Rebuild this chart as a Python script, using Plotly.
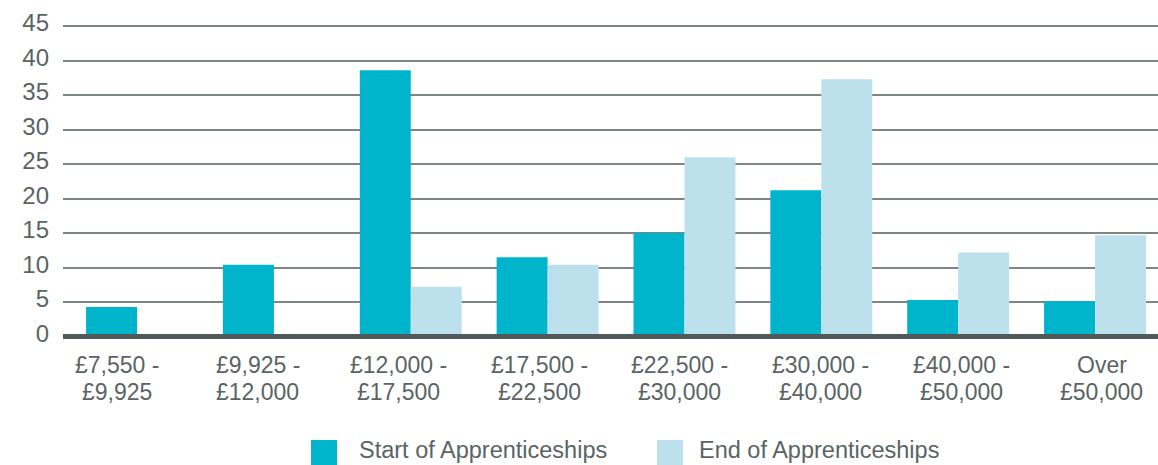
import plotly.graph_objects as go

categories = ["£7,550 -\n£9,925", "£9,925 -\n£12,000", "£12,000 -\n£17,500",
              "£17,500 -\n£22,500", "£22,500 -\n£30,000", "£30,000 -\n£40,000",
              "£40,000 -\n£50,000", "Over\n£50,000"]
start_values = [4.3, 10.4, 38.6, 11.5, 15.0, 21.2, 5.3, 5.1]
end_values = [None, None, 7.2, 10.4, 26.0, 37.3, 12.2, 14.7]
series_names = ["Start of Apprenticeships", "End of Apprenticeships"]
y_ticks = [0, 5, 10, 15, 20, 25, 30, 35, 40, 45]

START_COLOR = "#00b4cc"
END_COLOR = "#bce1ec"
TEXT_COLOR = "#5a6464"
FONT = "Liberation Sans, Arial, sans-serif"
FS = 23

W, H = 1158, 465
L, R, T, B = 63, 0, 24, 125
plot_w = W - L - R
plot_h = H - T - B

def px_x(px):
    return (px - L) / plot_w

def px_y(py):
    return (H - B - py) / plot_h

x_idx = list(range(len(categories)))

fig = go.Figure()
fig.add_trace(go.Bar(x=x_idx, y=start_values, name=series_names[0],
                     marker=dict(color=START_COLOR, line=dict(width=0)), showlegend=False))
fig.add_trace(go.Bar(x=x_idx, y=end_values, name=series_names[1],
                     marker=dict(color=END_COLOR, line=dict(width=0)), showlegend=False))

shapes = []
annotations = []

# category labels, two lines each, placed on a label axis
for i, lab in enumerate(categories):
    for k, line in enumerate(lab.split("\n")):
        annotations.append(dict(text=line, xref="x2", yref="paper", x=i,
                                y=px_y(364.5 if k == 0 else 391.5),
                                xanchor="center", yanchor="middle", showarrow=False,
                                font=dict(family=FONT, size=FS, color=TEXT_COLOR)))

# legend drawn as shapes + text
legend_items = [(series_names[0], START_COLOR, 311, 357), (series_names[1], END_COLOR, 657, 697)]
for name, color, sq_x, tx_x in legend_items:
    shapes.append(dict(type="rect", xref="paper", yref="paper",
                       x0=px_x(sq_x), x1=px_x(sq_x + 26), y0=px_y(440), y1=px_y(466),
                       fillcolor=color, line=dict(width=0), layer="above"))
    annotations.append(dict(text=name, xref="paper", yref="paper", x=px_x(tx_x), y=px_y(450),
                            xanchor="left", yanchor="middle", showarrow=False,
                            font=dict(family=FONT, size=FS + 0.5, color=TEXT_COLOR)))

# thick baseline at zero
shapes.append(dict(type="line", xref="paper", yref="y", x0=0, x1=1, y0=0, y1=0,
                   line=dict(color="#505a5a", width=5), layer="above"))

fig.update_layout(
    width=W, height=H,
    margin=dict(l=L, r=R, t=T, b=B, pad=0),
    paper_bgcolor="white", plot_bgcolor="white",
    barmode="group", bargap=0.255, bargroupgap=0,
    font=dict(family=FONT, size=FS, color=TEXT_COLOR),
    showlegend=False,
    shapes=shapes, annotations=annotations,
    xaxis=dict(tickmode="array", tickvals=x_idx, showticklabels=False,
               range=[-0.541, 7.46], showgrid=False, zeroline=False, showline=False,
               ticks="", fixedrange=True),
    xaxis2=dict(overlaying="x", anchor="y", range=[-0.384, 7.399], visible=False,
                fixedrange=True),
    yaxis=dict(range=[-0.5, 45.3], tickmode="array", tickvals=y_ticks,
               showgrid=True, gridcolor="#7d8585", gridwidth=1.5,
               zeroline=False, showline=False, ticks="",
               ticklabelstandoff=13, ticklabelshift=-3,
               tickfont=dict(family=FONT, size=24, color=TEXT_COLOR),
               fixedrange=True),
)

fig.write_html("out.html", config={"displayModeBar": False},
               post_script="document.body.style.margin='0';document.body.style.overflow='hidden';")
